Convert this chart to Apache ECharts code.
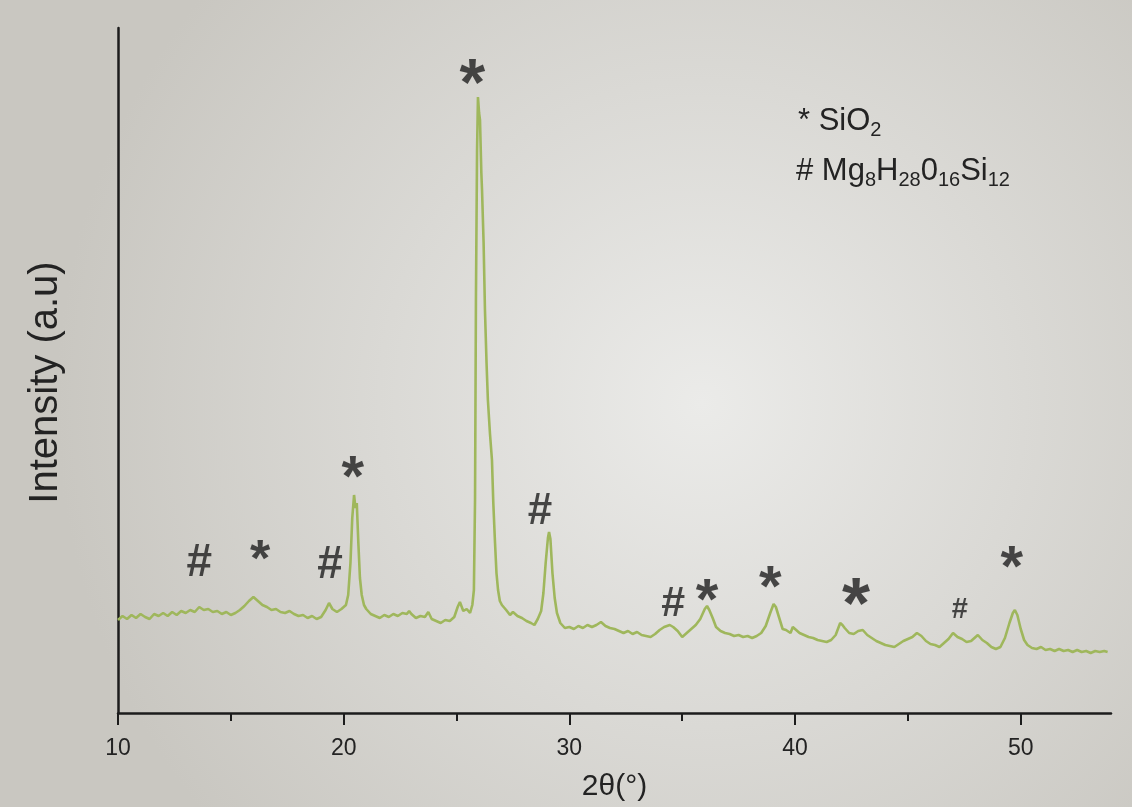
<!DOCTYPE html>
<html>
<head>
<meta charset="utf-8">
<title>XRD pattern</title>
<script src="https://cdn.jsdelivr.net/npm/echarts@6/dist/echarts.min.js"></script>
<style>
  html, body { margin: 0; padding: 0; }
  #main { width: 1132px; height: 807px; }
</style>
</head>
<body>
<div id="main"></div>
<script>
// diffraction pattern, 2theta (deg) vs intensity (a.u)
const twoTheta = [
  10.0, 10.2, 10.4, 10.6, 10.8, 11.0, 11.2, 11.4, 11.6, 11.8, 12.0, 12.2, 12.4, 12.6, 12.8,
  13.0, 13.2, 13.4, 13.6, 13.8, 14.0, 14.2, 14.4, 14.6, 14.8, 15.0, 15.2, 15.4, 15.6, 15.8,
  16.0, 16.1, 16.2, 16.4, 16.6, 16.8, 17.0, 17.2, 17.4, 17.6, 17.8, 18.0, 18.2, 18.4, 18.6,
  18.8, 19.0, 19.2, 19.35, 19.5, 19.7, 19.9, 20.1, 20.2, 20.3, 20.38, 20.46, 20.52, 20.58, 20.65,
  20.72, 20.8, 20.9, 21.0, 21.2, 21.4, 21.6, 21.8, 22.0, 22.2, 22.4, 22.6, 22.8, 22.9, 23.0,
  23.2, 23.4, 23.6, 23.75, 23.9, 24.1, 24.3, 24.5, 24.7, 24.9, 25.05, 25.15, 25.3, 25.45, 25.6,
  25.7, 25.77, 25.82, 25.86, 25.91, 25.95, 26.0, 26.04, 26.1, 26.13, 26.2, 26.26, 26.33, 26.39, 26.48,
  26.57, 26.63, 26.7, 26.77, 26.84, 26.92, 27.01, 27.2, 27.37, 27.5, 27.7, 27.9, 28.1, 28.3, 28.45,
  28.6, 28.75, 28.85, 28.95, 29.05, 29.1, 29.16, 29.25, 29.35, 29.45, 29.6, 29.8, 30.0, 30.2, 30.4,
  30.6, 30.8, 31.0, 31.2, 31.4, 31.6, 31.8, 32.0, 32.2, 32.4, 32.6, 32.8, 33.0, 33.2, 33.4,
  33.6, 33.8, 34.0, 34.2, 34.45, 34.6, 34.8, 35.0, 35.2, 35.4, 35.6, 35.8, 36.0, 36.1, 36.2,
  36.35, 36.5, 36.7, 36.9, 37.1, 37.3, 37.5, 37.7, 37.9, 38.1, 38.3, 38.5, 38.7, 38.9, 39.05,
  39.15, 39.3, 39.45, 39.6, 39.8, 39.9, 40.0, 40.2, 40.4, 40.6, 40.8, 41.0, 41.2, 41.4, 41.6,
  41.8, 42.0, 42.1, 42.2, 42.4, 42.6, 42.8, 43.0, 43.2, 43.4, 43.6, 43.8, 44.0, 44.2, 44.4,
  44.6, 44.8, 45.0, 45.2, 45.4, 45.6, 45.8, 46.0, 46.2, 46.4, 46.6, 46.8, 47.0, 47.2, 47.4,
  47.6, 47.8, 48.0, 48.1, 48.3, 48.5, 48.7, 48.9, 49.1, 49.3, 49.5, 49.65, 49.74, 49.85, 50.0,
  50.15, 50.3, 50.5, 50.7, 50.9, 51.1, 51.3, 51.5, 51.7, 51.9, 52.1, 52.3, 52.5, 52.7, 52.9,
  53.1, 53.3, 53.5, 53.7, 53.85
];
const intensity = [
  93, 97, 94, 98, 95, 99, 96, 94, 99, 97, 100, 97, 101, 98, 102,
  100, 103, 101, 106, 103, 104, 101, 102, 99, 101, 98, 100, 103, 107, 112,
  116, 114, 112, 108, 106, 103, 104, 101, 100, 102, 99, 97, 98, 95, 97,
  94, 96, 103, 110, 104, 101, 104, 108, 118, 150, 195, 218, 205, 210, 170,
  135, 118, 108, 104, 99, 97, 95, 98, 96, 99, 97, 100, 99, 102, 99,
  95, 97, 96, 101, 94, 92, 90, 93, 92, 96, 106, 111, 102, 104, 100,
  108, 123, 213, 413, 563, 616, 600, 593, 540, 523, 470, 403, 350, 313, 280,
  253, 210, 173, 140, 123, 112, 108, 103, 98, 101, 97, 95, 92, 90, 88,
  94, 102, 120, 150, 175, 181, 174, 140, 115, 100, 90, 85, 86, 84, 87,
  85, 88, 86, 88, 91, 87, 85, 84, 82, 80, 82, 79, 81, 78, 77,
  76, 79, 83, 86, 88, 86, 82, 76, 80, 84, 88, 94, 104, 107, 103,
  95, 86, 82, 80, 79, 77, 78, 76, 77, 75, 77, 80, 87, 100, 109,
  106, 95, 84, 83, 80, 86, 84, 80, 78, 76, 75, 73, 72, 71, 73,
  78, 90, 88, 85, 80, 79, 82, 83, 78, 75, 72, 70, 68, 67, 66,
  69, 72, 74, 76, 80, 77, 72, 69, 68, 66, 70, 74, 80, 76, 74,
  71, 72, 76, 78, 73, 70, 66, 64, 66, 75, 90, 100, 103, 98, 84,
  73, 68, 65, 64, 66, 63, 64, 62, 64, 62, 63, 61, 63, 61, 62,
  60, 62, 61, 62, 61
];

// phase markers above the peaks
const markTheta = [13.6, 16.3, 19.4, 20.4, 25.7, 28.7, 34.6, 36.1, 38.9, 42.7, 47.3, 49.6];
const markIntensity = [150, 163, 148, 246, 641, 201, 109, 123, 136, 121, 103, 156];
const markSymbol = ['#', '*', '#', '*', '*', '#', '#', '*', '*', '*', '#', '*'];
// font size per marker (styling only)
const markFontSize = [46, 52, 46, 58, 66, 44, 43, 58, 58, 72, 29, 58];

const xTicks = [10, 20, 30, 40, 50];
const xMinorTicks = [15, 25, 35, 45];

const myChart = echarts.init(document.getElementById('main'));

const axisColor = '#1c1c1c';
const textColor = '#232323';
const font = "'Liberation Sans', Arial, sans-serif";

const option = {
  animation: false,
  backgroundColor: new echarts.graphic.RadialGradient(0.62, 0.5, 0.8, [
    { offset: 0, color: '#ebebe9' },
    { offset: 1, color: '#c9c7c1' },
  ]),
  grid: { left: 118, right: 21, top: 28, bottom: 94 },
  xAxis: [
    {
      type: 'value',
      min: 10,
      max: 54,
      name: '2θ(°)',
      nameLocation: 'middle',
      nameGap: 59,
      nameTextStyle: { fontSize: 30, color: textColor, fontFamily: font },
      axisLine: { onZero: false, lineStyle: { color: axisColor, width: 2.5 } },
      axisTick: { customValues: xTicks, length: 12, lineStyle: { color: axisColor, width: 2 } },
      axisLabel: { customValues: xTicks, margin: 24, fontSize: 23, color: textColor, fontFamily: font },
      splitLine: { show: false },
    },
    {
      type: 'value',
      position: 'bottom',
      min: 10,
      max: 54,
      axisLine: { show: false },
      axisTick: { customValues: xMinorTicks, length: 8, lineStyle: { color: axisColor, width: 2 } },
      axisLabel: { show: false },
      splitLine: { show: false },
    },
  ],
  yAxis: {
    type: 'value',
    min: 0,
    max: 685,
    name: 'Intensity (a.u)',
    nameLocation: 'middle',
    nameGap: 52,
    nameTextStyle: { fontSize: 40, color: textColor, fontFamily: font, padding: [0, 24, 0, 0] },
    axisLine: { show: true, lineStyle: { color: axisColor, width: 2.5 } },
    axisTick: { show: false },
    axisLabel: { show: false },
    splitLine: { show: false },
  },
  graphic: [
    {
      type: 'text',
      left: 798,
      top: 106,
      style: {
        text: '{a|* SiO}{s|2}',
        fill: textColor,
        rich: {
          a: { fontSize: 31, lineHeight: 38, fontFamily: font, fill: textColor },
          s: { fontSize: 20, lineHeight: 2, verticalAlign: 'bottom', fontFamily: font, fill: textColor },
        },
      },
    },
    {
      type: 'text',
      left: 796,
      top: 156,
      style: {
        text: '{a|# Mg}{s|8}{a|H}{s|28}{a|0}{s|16}{a|Si}{s|12}',
        fill: textColor,
        rich: {
          a: { fontSize: 31, lineHeight: 38, fontFamily: font, fill: textColor },
          s: { fontSize: 20, lineHeight: 2, verticalAlign: 'bottom', fontFamily: font, fill: textColor },
        },
      },
    },
  ],
  series: [
    {
      name: 'pattern',
      type: 'line',
      data: twoTheta.map((t, i) => [t, intensity[i]]),
      showSymbol: false,
      symbol: 'none',
      lineStyle: { color: '#9fb75c', width: 2.6 },
      z: 2,
    },
    {
      name: 'markers',
      type: 'scatter',
      silent: true,
      symbolSize: 0,
      data: markTheta.map((t, i) => ({
        name: markSymbol[i],
        value: [t, markIntensity[i]],
        label: {
          fontSize: markFontSize[i],
          offset: [0, markSymbol[i] === '*' ? markFontSize[i] * 0.22 : 0],
        },
      })),
      label: {
        show: true,
        position: 'inside',
        formatter: '{b}',
        color: '#1e1e1e',
        fontWeight: 'bold',
        fontFamily: font,
      },
      z: 3,
    },
  ],
};

myChart.setOption(option);
</script>
</body>
</html>
